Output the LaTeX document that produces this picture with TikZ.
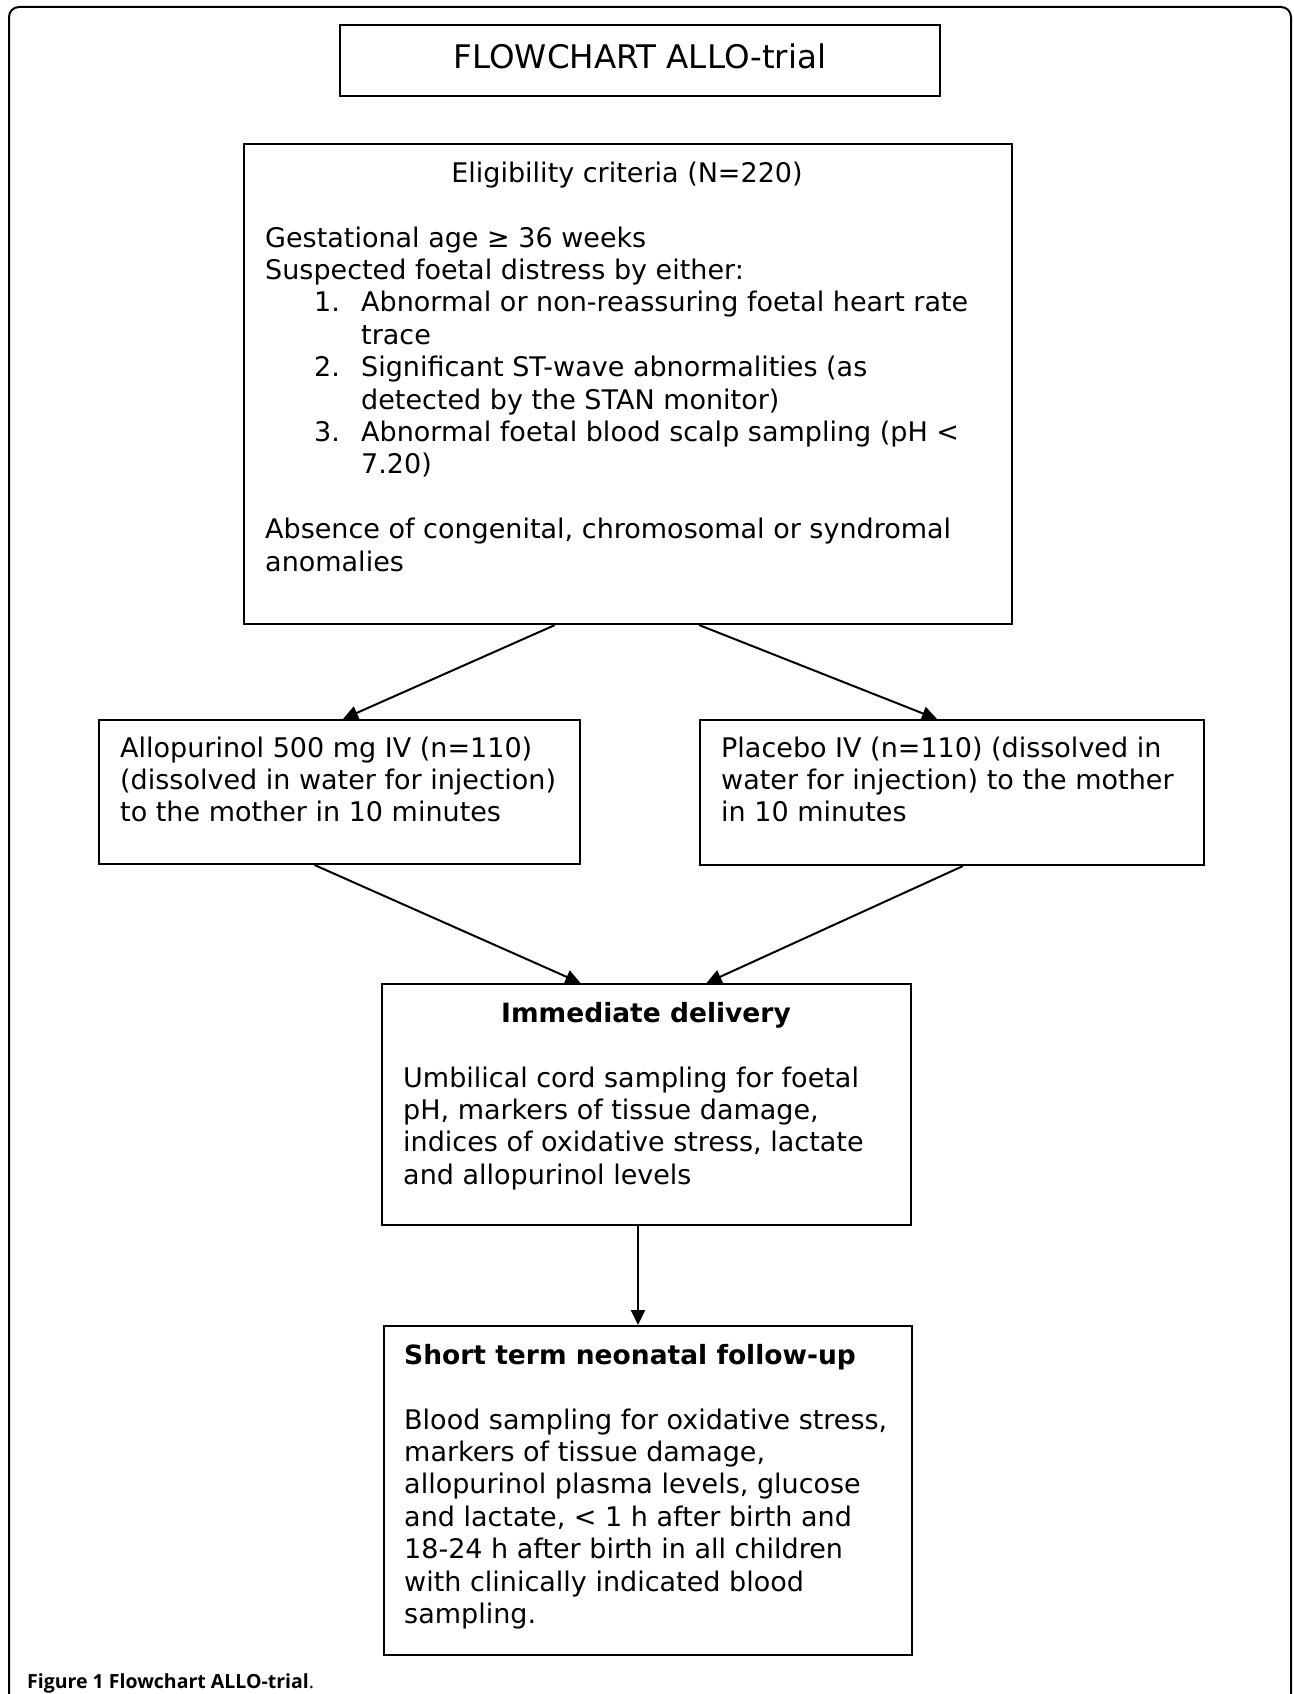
\documentclass[tikz,border=0pt]{standalone}
\usepackage{fontspec}
\usepackage{graphicx}
\setmainfont{DejaVu Sans}
\newfontfamily\capfont{Open Sans}
\usetikzlibrary{arrows.meta,calc}
\newcommand{\bodyfont}{\fontsize{27}{32.4}\selectfont}
\tikzset{
  box/.style={draw, line width=2pt, inner sep=0pt},
  txt/.style={inner sep=0pt, anchor=base west, font=\bodyfont},
  ctxt/.style={inner sep=0pt, anchor=base, font=\bodyfont},
  arr/.style={line width=2pt, -{Triangle[length=15pt,width=14pt]}}
}
\newcommand{\itm}[1]{\hspace*{49pt}\makebox[47pt][l]{#1}}
\newcommand{\cnt}{\hspace*{96pt}}
\newcommand{\lines}[1]{\begin{tabular}[t]{@{}l@{}}#1\end{tabular}}
\begin{document}
\begin{tikzpicture}[x=1pt,y=-1pt]
\useasboundingbox (0,0) rectangle (1293,1694);
% outer frame
\draw[line width=2pt, rounded corners=10pt] (9,1694) -- (9,7) -- (1291,7) -- (1291,1694);
% boxes
\node[box, minimum width=600pt, minimum height=71pt] (title) at (640,60.5) {};
\node[ctxt, font=\fontsize{32.5}{38}\selectfont] (titletxt) at (640,68) {FLOWCHART ALLO-trial};

\node[box, minimum width=768pt, minimum height=480pt] (elig) at (628,384) {};
\node[ctxt] (eligtitle) at (627,182) {Eligibility criteria (N=220)};
\node[txt] (eligtxt) at (265,247) {\lines{Gestational age ≥ 36 weeks\\
Suspected foetal distress by either:\\
\itm{1.}Abnormal or non-reassuring foetal heart rate\\
\cnt trace\\
\itm{2.}Significant ST-wave abnormalities (as\\
\cnt detected by the STAN monitor)\\
\itm{3.}Abnormal foetal blood scalp sampling (pH <\\
\cnt 7.20)\\
\\
Absence of congenital, chromosomal or syndromal\\
anomalies}};

\node[box, minimum width=481pt, minimum height=144pt] (allo) at (339.5,792) {};
\node[txt] (allotxt) at (120,757) {\lines{Allopurinol 500 mg IV (n=110)\\
(dissolved in water for injection)\\
to the mother in 10 minutes}};

\node[box, minimum width=504pt, minimum height=145pt] (plac) at (952,792.5) {};
\node[txt] (plactxt) at (721,757) {\lines{Placebo IV (n=110) (dissolved in\\
water for injection) to the mother\\
in 10 minutes}};

\node[box, minimum width=529pt, minimum height=241pt] (imm) at (646.5,1104.5) {};
\node[ctxt, font=\fontsize{26.5}{32.4}\selectfont\bfseries] (immtitle) at (646,1022) {Immediate delivery};
\node[txt] (immtxt) at (403,1087) {\lines{Umbilical cord sampling for foetal\\
pH, markers of tissue damage,\\
indices of oxidative stress, lactate\\
and allopurinol levels}};

\node[box, minimum width=528pt, minimum height=329pt] (short) at (648,1490.5) {};
\node[txt, font=\fontsize{26.5}{32.4}\selectfont\bfseries] (shorttitle) at (404,1364) {Short term neonatal follow-up};
\node[txt] (shorttxt) at (404,1429) {\lines{Blood sampling for oxidative stress,\\
markers of tissue damage,\\
allopurinol plasma levels, glucose\\
and lactate, < 1 h after birth and\\
18-24 h after birth in all children\\
with clinically indicated blood\\
sampling.}};

% caption
\node[inner sep=0pt, anchor=base west, font=\capfont\fontsize{19.5}{24}\selectfont] (caption) at (27,1688) {\textbf{Figure 1 Flowchart ALLO-trial}.};

% connectors
\draw[arr] ([xshift=-73pt]elig.south) -- ([xshift=3.5pt]allo.north);
\draw[arr] ([xshift=71pt]elig.south) -- ([xshift=-15pt]plac.north);
\draw[arr] ([xshift=-25pt]allo.south) -- ([xshift=-66pt]imm.north);
\draw[arr] ([xshift=11pt]plac.south) -- ([xshift=60pt]imm.north);
\coordinate (midS) at ([xshift=-8.5pt]imm.south);
\draw[arr] (midS) -- (midS |- short.north);
\end{tikzpicture}
\end{document}
